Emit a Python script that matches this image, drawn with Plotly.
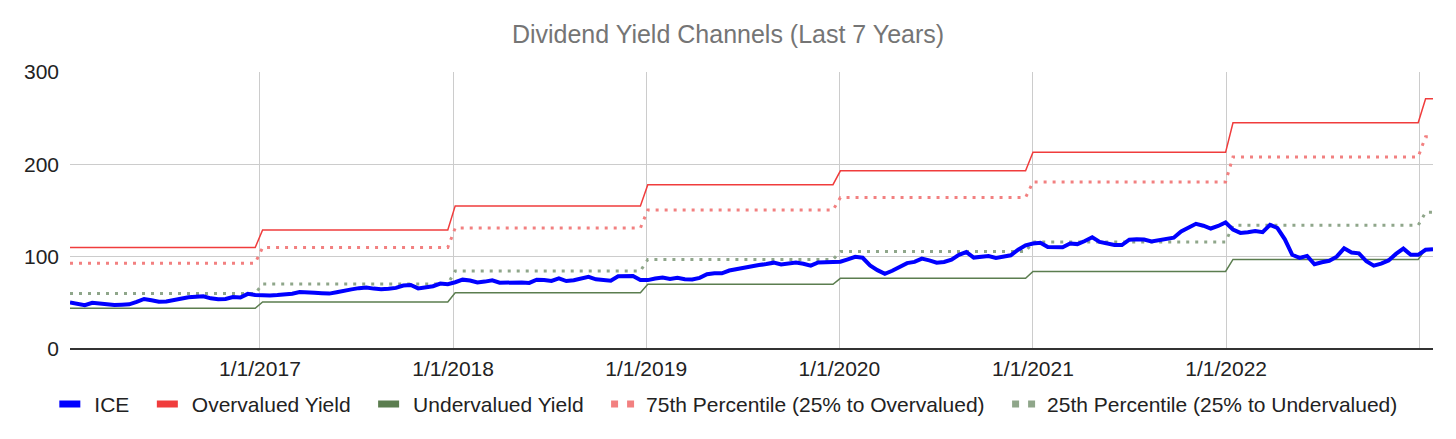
import pandas as pd
import plotly.graph_objects as go

# biweekly observations (Fridays), Jan 2016 - Jan 2023
dates = pd.date_range("2016-01-08", periods=185, freq="14D")

ice = [
    50.5, 49.2, 47.4, 50.0, 49.0, 48.1, 47.7, 48.0, 48.4, 51.0,
    54.2, 52.7, 51.2, 51.4, 52.9, 55.4, 56.0, 56.7, 57.0, 54.9,
    53.9, 54.2, 56.2, 55.8, 59.7, 58.5, 57.8, 57.9, 58.4, 58.9,
    59.9, 61.6, 61.6, 61.0, 60.5, 60.0, 61.5, 63.4, 64.6, 65.9,
    66.5, 65.4, 64.8, 65.3, 66.2, 68.7, 69.3, 65.6, 66.3, 68.0,
    70.8, 70.2, 72.3, 75.1, 74.1, 72.0, 73.0, 74.4, 71.8, 71.9,
    72.9, 72.0, 71.6, 75.1, 74.8, 73.7, 76.4, 73.6, 74.4, 76.4,
    78.2, 75.5, 74.5, 74.0, 78.8, 79.2, 79.0, 74.7, 74.6, 76.4,
    77.4, 75.8, 77.2, 75.5, 75.2, 77.0, 81.0, 82.0, 82.0, 85.0,
    86.7, 88.3, 90.2, 90.9, 92.0, 93.5, 91.5, 92.1, 93.6, 92.3,
    90.3, 93.7, 93.7, 93.7, 94.6, 97.1, 99.8, 98.8, 90.5, 85.4,
    81.5, 84.7, 88.5, 93.0, 94.3, 97.9, 96.0, 93.5, 94.2, 96.8,
    101.9, 105.0, 99.0, 99.4, 100.6, 98.6, 99.8, 101.5, 107.5, 112.3,
    114.3, 115.1, 110.4, 110.1, 110.1, 114.2, 113.6, 117.0, 121.0, 116.0,
    114.0, 112.6, 112.6, 118.4, 118.8, 118.5, 116.5, 117.7, 119.2, 120.5,
    127.3, 131.5, 135.6, 133.5, 130.5, 133.2, 137.0, 129.3, 125.7, 126.5,
    127.8, 126.6, 134.5, 131.0, 118.8, 102.0, 98.6, 100.8, 91.8, 94.0,
    95.6, 100.0, 109.0, 104.4, 103.6, 95.0, 90.3, 92.5, 95.9, 103.0,
    108.7, 102.0, 102.0, 107.5, 108.0,
]

# channel levels, one per calendar year
channel_years = [2016, 2017, 2018, 2019, 2020, 2021, 2022, 2023]
overvalued = [110, 129, 155, 178, 193, 213, 245, 271]
undervalued = [44, 51, 61, 70, 76.5, 84, 97, 108]
pct75 = [93, 110, 131, 150.5, 164, 181, 208, 230]
pct25 = [60, 70.5, 84.5, 97, 105.5, 116, 134, 148]

tick_dates = ["2017-01-01", "2018-01-01", "2019-01-01", "2020-01-01",
              "2021-01-01", "2022-01-01", "2023-01-01"]
tick_text = ["1/1/2017", "1/1/2018", "1/1/2019", "1/1/2020",
             "1/1/2021", "1/1/2022", ""]


def by_year(levels):
    lookup = dict(zip(channel_years, levels))
    return [lookup[d.year] for d in dates]


FONT = "Arial, Liberation Sans, sans-serif"
GAP = "\u00a0" * 3  # extra room between legend entries

series = [
    # name, values, colour, width, dash, legend dash
    ("ICE", ice, "#0000FF", 4, "solid", "21px,100px"),
    ("Overvalued Yield", by_year(overvalued), "#F03C3C", 1.5, "solid", "21px,100px"),
    ("Undervalued Yield", by_year(undervalued), "#5B7D4F", 1.5, "solid", "21px,100px"),
    ("75th Percentile (25% to Overvalued)", by_year(pct75), "#F28080", 3, "3px,6px", "7px,9px"),
    ("25th Percentile (25% to Undervalued)", by_year(pct25), "#8FA68A", 3, "3px,6px", "7px,9px"),
]

fig = go.Figure()

# draw the channels first so ICE sits on top
for name, vals, col, w, dash, _ in series[1:] + series[:1]:
    fig.add_trace(go.Scatter(x=dates, y=vals, mode="lines", name=name,
                             line=dict(color=col, width=w, dash=dash),
                             showlegend=False))

# legend-only entries with the chunky sheet-style swatches
for k, (name, vals, col, w, dash, ldash) in enumerate(series):
    label = name + (GAP if k < len(series) - 1 else "")
    fig.add_trace(go.Scatter(x=[None], y=[None], mode="lines", name=label,
                             line=dict(color=col, width=7, dash=ldash)))

# page has an 8px body margin, so the figure is drawn 8px in from the corner
fig.update_layout(
    width=1440, height=431,
    margin=dict(l=62, r=15, t=64, b=90),
    plot_bgcolor="white", paper_bgcolor="white",
    font=dict(family=FONT, size=21, color="#222222"),
    title=dict(text="Dividend Yield Channels (Last 7 Years)",
               x=0.5, xanchor="center", y=0.94, yanchor="middle",
               font=dict(family=FONT, size=25, color="#757575")),
    legend=dict(orientation="h", x=0.483, xanchor="center",
                y=-0.2, yanchor="middle",
                font=dict(family=FONT, size=21, color="#222222")),
    showlegend=True,
)
fig.update_xaxes(range=[dates[0], dates[-1]], tickvals=tick_dates, ticktext=tick_text,
                 showgrid=True, gridcolor="#CCCCCC", gridwidth=1,
                 showline=False, zeroline=False, ticks="", ticklabelstandoff=5)
fig.update_yaxes(range=[0, 300], dtick=100, showgrid=True, gridcolor="#CCCCCC",
                 zeroline=True, zerolinecolor="#333333", zerolinewidth=2,
                 ticks="", ticklabelstandoff=10)

fig.write_html("out.html")
